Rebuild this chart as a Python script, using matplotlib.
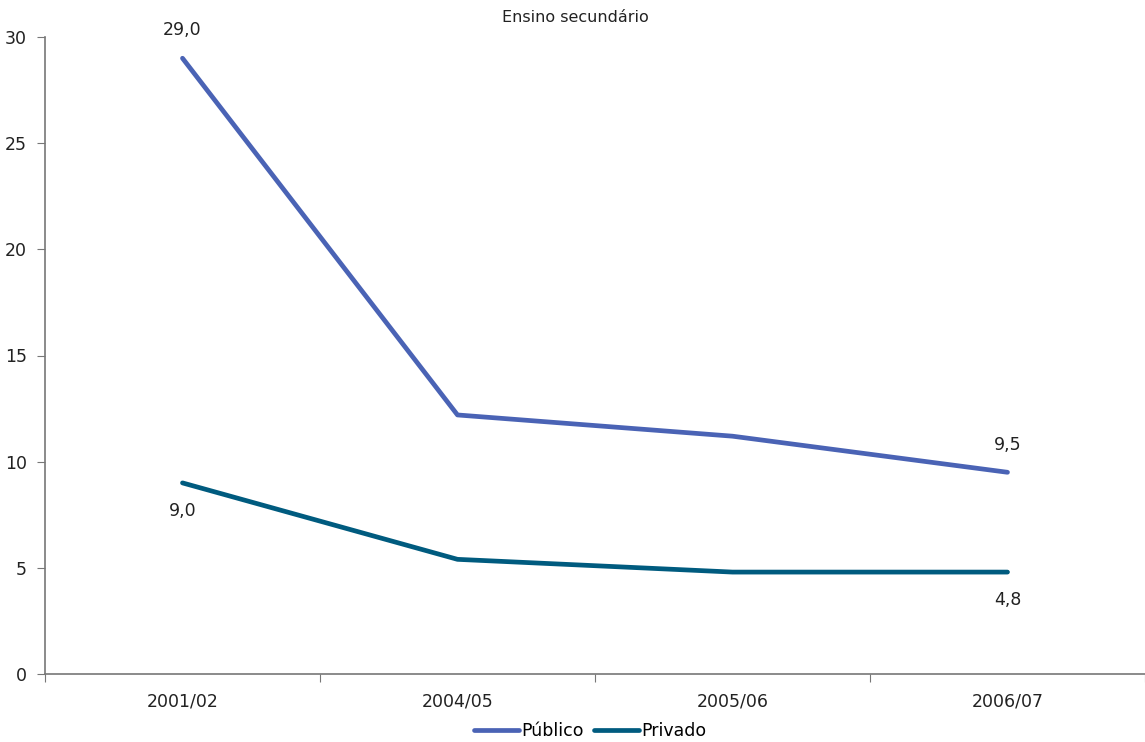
import matplotlib
matplotlib.use("Agg")
import matplotlib.pyplot as plt

plt.rcParams["font.family"] = ["DejaVu Sans"]

categories = ["2001/02", "2004/05", "2005/06", "2006/07"]
publico = [29.0, 12.2, 11.2, 9.5]
privado = [9.0, 5.4, 4.8, 4.8]
title = "Ensino secundário"

fig = plt.figure(figsize=(11.45, 7.42), dpi=100)
ax = fig.add_axes([45/1145, 1-674/742, 1-45/1145, (674-37)/742])
x = list(range(len(categories)))
ax.plot(x, publico, color="#4a63b5", lw=3.4, label="Público", solid_capstyle="round")
ax.plot(x, privado, color="#005b7f", lw=3.4, label="Privado", solid_capstyle="round")

ax.set_xlim(-0.5, len(categories) - 0.5)
ax.set_ylim(0, 30)
ax.set_yticks(range(0, 31, 5))
ax.set_xticks([i - 0.5 for i in range(len(categories) + 1)])
ax.set_xticklabels([])
ax.set_xticks(x, minor=True)
ax.set_xticklabels(categories, minor=True)
fs = 12.5
ax.tick_params(axis="x", which="minor", length=0, pad=13, labelsize=fs, colors="#222222")
ax.tick_params(axis="x", which="major", length=6, direction="out", color="#777777")
ax.tick_params(axis="y", length=6, direction="out", color="#777777", labelsize=fs, labelcolor="#222222", pad=7)
for s in ["top", "right"]:
    ax.spines[s].set_visible(False)
for s in ["left", "bottom"]:
    ax.spines[s].set_color("#777777")
    ax.spines[s].set_linewidth(1.2)

def fmt(v):
    return f"{v:.1f}".replace(".", ",")

ax.annotate(fmt(publico[0]), (0, publico[0]), xytext=(0, 20), textcoords="offset points", ha="center", va="center", fontsize=fs, color="#222222")
ax.annotate(fmt(publico[-1]), (3, publico[-1]), xytext=(0, 20), textcoords="offset points", ha="center", va="center", fontsize=fs, color="#222222")
ax.annotate(fmt(privado[0]), (0, privado[0]), xytext=(0, -20), textcoords="offset points", ha="center", va="center", fontsize=fs, color="#222222")
ax.annotate(fmt(privado[-1]), (3, privado[-1]), xytext=(0, -20), textcoords="offset points", ha="center", va="center", fontsize=fs, color="#222222")

fig.text(575/1145, 1-18/742, title, ha="center", va="center", fontsize=11.5, color="#222222")
fig.legend(loc="center", bbox_to_anchor=(590/1145, 1-731/742), ncol=2, frameon=False,
           fontsize=fs, handlelength=2.6, handletextpad=0.1, columnspacing=0.6)

fig.savefig("out.png", dpi=100)
